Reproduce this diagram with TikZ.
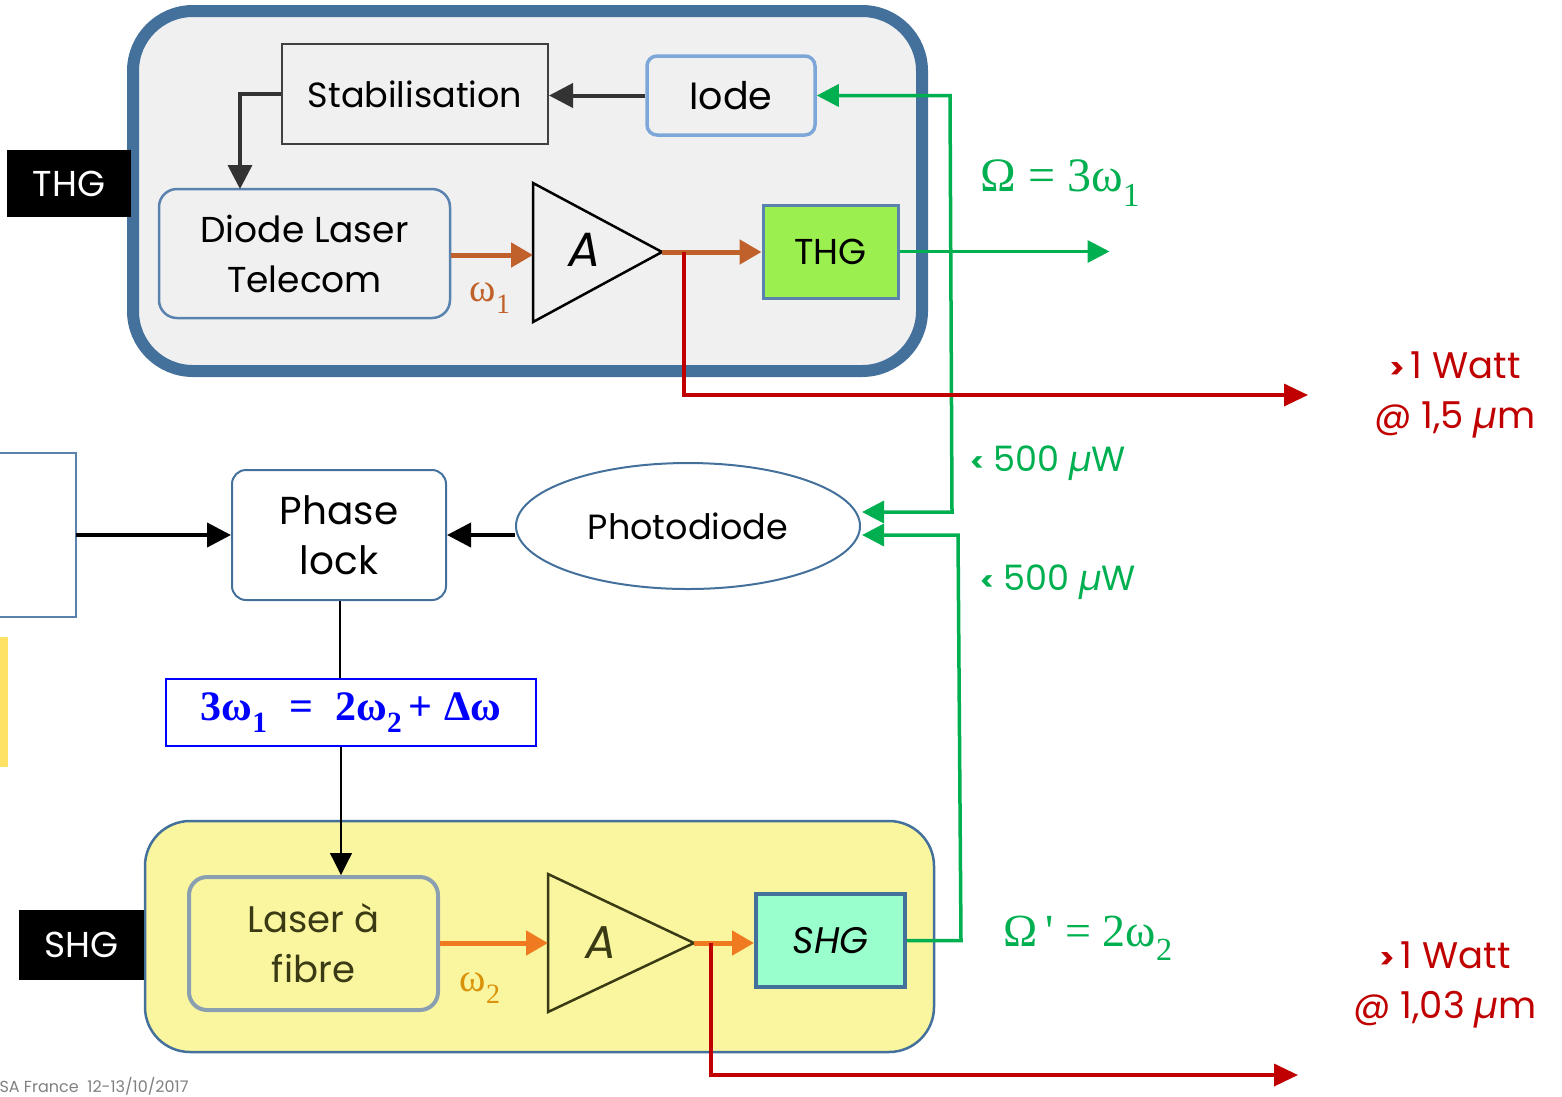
\documentclass[tikz,border=0pt]{standalone}
\usepackage{fontspec}
\setmainfont{Poppins}
\newfontfamily\serif{Liberation Serif}
\usetikzlibrary{arrows.meta,shapes.geometric}
\definecolor{steel}{HTML}{44709C}
\definecolor{lbd}{HTML}{7DA7D9}
\definecolor{bbd}{HTML}{5A82AE}
\definecolor{grn}{HTML}{00B050}
\definecolor{rd}{HTML}{C00000}
\definecolor{brn}{HTML}{C0602A}
\definecolor{org}{HTML}{F07A20}
\definecolor{gold}{HTML}{D9920A}
\definecolor{thgfill}{HTML}{9BF050}
\definecolor{shgfill}{HTML}{99FFCC}
\definecolor{yel}{HTML}{FAF6A0}
\definecolor{lgray}{HTML}{F0F0F0}
\definecolor{olive}{HTML}{3A3A14}
\definecolor{lfbd}{HTML}{8AA0B0}
\newcommand\lowsub[1]{\raisebox{-0.3em}{\scalebox{0.7}{#1}}}
\newcommand\fs[1]{\fontsize{#1}{50}\selectfont}
\newcommand\gt{{\fontsize{28}{28}\selectfont\bfseries >}}
\newcommand\lt{{\fontsize{26}{26}\selectfont\bfseries <}}
\begin{document}
\begin{tikzpicture}[x=1pt,y=-1pt,
  box/.style={draw,inner sep=0pt,align=center},
  blk/.style={fill=black,text=white,inner sep=0pt,font=\fs{36}},
  garrow/.style={grn,line width=3.5,-{Triangle[length=22,width=22]}},
  rarrow/.style={rd,line width=3.5,-{Triangle[length=24,width=22]}},
  barrow/.style={line width=4,-{Triangle[length=24,width=24]}},
  oarrow/.style={line width=5,-{Triangle[length=22,width=24]}}]
\useasboundingbox (0,0) rectangle (1562,1096);
% big THG frame
\draw[steel,line width=12,fill=lgray,rounded corners=60] (133,11) rectangle (922,371);
\node[blk,minimum width=124,minimum height=67] (thglab) at (69,183.5) {THG};
% SHG frame
\draw[steel,line width=2.5,fill=yel,rounded corners=45] (145,821) rectangle (934,1052);
\node[blk,minimum width=125,minimum height=70] (shglab) at (81.5,945) {SHG};
% left partial box and strip
\draw[bbd,line width=2] (-10,453) rectangle (76,617);
\fill[yellow!70!orange!60] (0,637) rectangle (8,767);
\coordinate (lb) at (76,535);
% top nodes
\node[box,draw=black!75,line width=2,minimum width=266,minimum height=100,font=\fs{35}] (stab) at (415,94) {Stabilisation};
\node[box,draw=lbd,line width=3.5,rounded corners=10,minimum width=168,minimum height=79,font=\fs{38}] (iode) at (731,95.5) {Iode};
\node[box,draw=bbd,line width=2.5,rounded corners=18,minimum width=291,minimum height=129,font=\fs{36}] (diode) at (304.5,253.5) {Diode Laser\\Telecom};
\draw[black,line width=2.5] (533,183) -- (533,322) -- (662,252) -- cycle;
\node[font=\fs{48}\itshape] (a1) at (585,250) {A};
\coordinate (a1in) at (533,255);
\coordinate (a1out) at (662,252);
\node[box,draw=bbd,line width=3,fill=thgfill,minimum width=135,minimum height=93,font=\fs{36}] (thg) at (830.5,251.5) {THG};
\node[brn,font=\serif\fs{40}] (w1) at (490,298) {ω\lowsub{1}};
% arrows in THG
\draw[barrow,black!80] (iode.west) -- (stab.east|-iode.west);
\draw[barrow,black!80,line width=3.5] (stab.west) -- (stab.west-|240,0) -- (240,189);
\draw[oarrow,brn] (diode.east|-a1in) -- (a1in);
\draw[oarrow,brn] (a1out) -- (thg.west|-a1out);
% green outputs
\coordinate (pd1) at (862,512);
\coordinate (pd2) at (862,535);
\draw[grn,line width=3.5,{Triangle[length=22,width=22]}-{Triangle[length=22,width=22]}] (iode.east) -- (950,95.5) -- (952,512) -- (pd1);
\draw[garrow] (thg.east) -- ++(210,0);
\node[grn,font=\serif\fs{48}] (om1) at (1060,183) {Ω = 3ω\lowsub{1}};
% red output THG
\draw[rarrow] (684,252) -- (684,395) -- (1308,395);
\node[rd,font=\fs{37},align=center] (p1) at (1455,395) {\gt\,1 Watt\\@ 1,5 \textit{µ}m};
\node[grn,font=\fs{35}] (uw1) at (1048,463) {\lt\ 500 \textit{µ}W};
\node[grn,font=\fs{35}] (uw2) at (1058,582) {\lt\ 500 \textit{µ}W};
% middle
\node[box,draw=steel,line width=2,ellipse,minimum width=344,minimum height=126,font=\fs{35}] (pd) at (688,526) {Photodiode};
\node[box,draw=steel,line width=2,rounded corners=14,minimum width=214,minimum height=130,font=\fs{39}] (pl) at (339,535) {Phase\\lock};
\draw[barrow,black] (pd.west|-pl) -- (pl.east);
\draw[barrow,black] (lb) -- (pl.west);
\node[box,draw=blue,line width=1.8,minimum width=370,minimum height=67,text=blue,font=\serif\bfseries\fs{42}] (eq) at (351,712.5) {3ω\lowsub{1} \;=\; 2ω\lowsub{2}\,+\;Δω};
\draw[black,line width=1.2] (pl.south-|340,0) -- (eq.north-|340,0);
\node[box,draw=lfbd,line width=4,rounded corners=18,minimum width=249,minimum height=133,text=olive,font=\fs{37}] (lf) at (313.5,943.5) {Laser à\\fibre};
\draw[black,line width=1.2,-{Triangle[length=22,width=22]}] (eq.south-|341,0) -- (lf.north-|341,0);
% SHG row
\draw[olive,line width=2.5] (548,874) -- (548,1012) -- (694,943) -- cycle;
\node[olive,font=\fs{46}\itshape] (a2) at (601,943) {A};
\coordinate (a2in) at (548,943);
\coordinate (a2out) at (694,943);
\node[box,draw=steel,line width=4,fill=shgfill,minimum width=149,minimum height=93,font=\fs{37}\itshape] (shg) at (830.5,940.5) {SHG};
\draw[oarrow,org] (lf.east|-a2in) -- (a2in);
\draw[oarrow,org] (a2out) -- (shg.west|-a2out);
\node[gold,font=\serif\fs{40}] (w2) at (480,988) {ω\lowsub{2}};
\draw[garrow] (shg.east) -- (961,940.5) -- (958,535) -- (pd2);
\node[grn,font=\serif\fs{46}] (om2) at (1088,938) {Ω\,' = 2ω\lowsub{2}};
\draw[rarrow] (711,943) -- (711,1075) -- (1298,1075);
\node[rd,font=\fs{37},align=center] (p2) at (1445,985) {\gt\,1 Watt\\@ 1,03 \textit{µ}m};
\node[gray,font=\fs{16},anchor=west] (foot) at (-4,1086) {SA France \;12-13/10/2017};
\end{tikzpicture}
\end{document}
